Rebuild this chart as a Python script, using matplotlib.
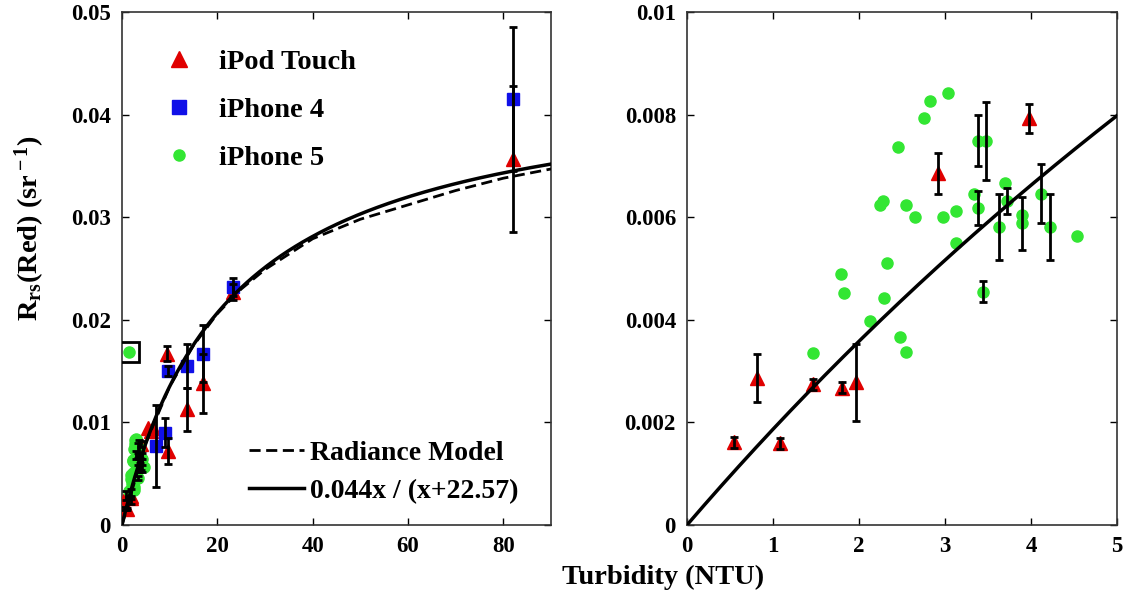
import numpy as np
import matplotlib
matplotlib.use("Agg")
import matplotlib.pyplot as plt
from matplotlib.lines import Line2D

plt.rcParams['font.family'] = ['Liberation Serif', 'DejaVu Serif']
plt.rcParams['font.weight'] = 'bold'
plt.rcParams['mathtext.fontset'] = 'custom'
plt.rcParams['mathtext.rm'] = 'Liberation Serif:bold'
plt.rcParams['mathtext.it'] = 'Liberation Serif:bold'
plt.rcParams['mathtext.bf'] = 'Liberation Serif:bold'

# iPod Touch (red triangles): turbidity, Rrs, error
ipod_x = [0.55, 0.81, 1.08, 1.47, 1.80, 1.97, 2.92, 3.98, 5.4, 6.0, 6.6,
          9.4, 9.6, 13.6, 16.9, 23.2, 82.0]
ipod_y = [0.00161, 0.00287, 0.00159, 0.00274, 0.00268, 0.00278, 0.00686, 0.00793,
          0.0095, 0.0092, 0.0095, 0.0167, 0.0072, 0.0113, 0.0138, 0.0227, 0.0357]
ipod_err = [0.0001, 0.00047, 0.0001, 0.0001, 0.0001, 0.00075, 0.0004, 0.00028,
            0.0, 0.0, 0.0, 0.0007, 0.0013, 0.0021, 0.0029, 0.0008, 0.0071]

# iPhone 4 (blue squares)
ip4_x = [7.1, 9.0, 9.6, 13.6, 16.9, 23.2, 82.0]
ip4_y = [0.0077, 0.0090, 0.0150, 0.0155, 0.0167, 0.0232, 0.0415]
ip4_err = [0.0040, 0.0014, 0.0005, 0.0021, 0.0028, 0.0009, 0.0070]

# iPhone 5 (green circles)
ip5_x = [3.03, 2.83, 2.76, 2.45, 3.38, 3.48, 2.28, 2.24, 2.55, 2.65, 2.98,
         3.13, 3.34, 3.38, 3.70, 3.72, 3.63, 3.89, 3.89, 4.12, 4.22, 4.53,
         3.13, 2.32, 1.79, 1.83, 2.29, 2.13, 2.48, 2.55, 1.46, 3.44]
ip5_y = [0.00843, 0.00826, 0.00793, 0.00736, 0.00749, 0.00749, 0.00632, 0.00623,
         0.00624, 0.00601, 0.00601, 0.00613, 0.00646, 0.00618, 0.00667, 0.00631,
         0.00581, 0.00604, 0.00588, 0.00646, 0.00581, 0.00563, 0.00550, 0.00511,
         0.00489, 0.00453, 0.00442, 0.00397, 0.00366, 0.00338, 0.00335, 0.00455]
ip5_err = [0, 0, 0, 0, 0.0005, 0.00076, 0, 0, 0, 0, 0,
           0, 0, 0.00033, 0, 0.00025, 0.00065, 0, 0.00052, 0.00057, 0.00065, 0,
           0, 0, 0, 0, 0, 0, 0, 0, 0, 0.0002]

# outlier (boxed)
out_x = [1.5]
out_y = [0.0169]

# radiance model (dashed)
rad_x = [0, 5, 10, 15, 20, 25, 30, 40, 50, 60, 70, 80, 90]
rad_y = [0, 0.0080, 0.0135, 0.0175, 0.0206, 0.0230, 0.0249, 0.0279, 0.0298,
         0.0312, 0.0326, 0.0338, 0.0347]

# fitted curve from the label: 0.044x / (x+22.57)
fit_a, fit_b = 0.044, 22.57

RED = '#e00000'
BLUE = '#1010e8'
GREEN = '#33e633'

fig = plt.figure(figsize=(11.38, 6.0), dpi=100)
ax1 = fig.add_axes([122 / 1138, 75 / 600, 429 / 1138, 513 / 600])
ax2 = fig.add_axes([687 / 1138, 75 / 600, 430 / 1138, 513 / 600])

for ax, xmax in [(ax1, 90), (ax2, 5)]:
    ax.plot(ipod_x, ipod_y, '^', color=RED, ms=10, mec=RED, zorder=3)
    ax.plot(ip4_x, ip4_y, 's', color=BLUE, ms=9, mec=BLUE, zorder=3)
    ax.plot(ip5_x, ip5_y, 'o', color=GREEN, ms=8, mec=GREEN, zorder=3)
    ax.plot(out_x, out_y, 'o', color=GREEN, ms=8, mec=GREEN, zorder=3)
    for xs, ys, es in [(ipod_x, ipod_y, ipod_err), (ip4_x, ip4_y, ip4_err),
                       (ip5_x, ip5_y, ip5_err)]:
        xs = np.array(xs)
        ys = np.array(ys)
        es = np.array(es)
        m = es > 0
        ax.errorbar(xs[m], ys[m], yerr=es[m], fmt='none', ecolor='black',
                    elinewidth=2, capsize=3, capthick=2, zorder=4)
    xx = np.linspace(0, xmax, 300)
    ax.plot(xx, fit_a * xx / (xx + fit_b), '-', color='black', lw=2.5, zorder=5)
    ax.set_xlim(0, xmax)
    ax.tick_params(direction='in', top=True, right=True, length=5, width=1,
                   labelsize=16.5, pad=8)
    for s in ax.spines.values():
        s.set_linewidth(1.2)
        s.set_color('#333333')

ax1.plot(out_x, out_y, 's', mfc='none', mec='black', ms=15, mew=2, zorder=4)
ax1.plot(rad_x, rad_y, '--', color='black', lw=2, dashes=(4, 2), zorder=5)

ax1.set_ylim(0, 0.05)
ax1.set_xticks([0, 20, 40, 60, 80])
ax1.set_yticks([0, 0.01, 0.02, 0.03, 0.04, 0.05])
ax1.set_yticklabels(['0', '0.01', '0.02', '0.03', '0.04', '0.05'])

ax2.set_ylim(0, 0.01)
ax2.set_xticks([0, 1, 2, 3, 4, 5])
ax2.set_yticks([0, 0.002, 0.004, 0.006, 0.008, 0.01])
ax2.set_yticklabels(['0', '0.002', '0.004', '0.006', '0.008', '0.01'])

h1 = [Line2D([], [], ls='none', marker='^', color=RED, ms=12),
      Line2D([], [], ls='none', marker='s', color=BLUE, ms=10),
      Line2D([], [], ls='none', marker='o', color=GREEN, ms=8)]
leg1 = ax1.legend(h1, ['iPod Touch', 'iPhone 4', 'iPhone 5'], loc='upper left',
                  bbox_to_anchor=(0.04, 0.95), frameon=False, fontsize=20.5,
                  handletextpad=0.4, labelspacing=0.78, borderaxespad=0)
ax1.add_artist(leg1)

h2 = [Line2D([], [], ls='--', color='black', lw=2, dashes=(4, 2)),
      Line2D([], [], ls='-', color='black', lw=2.5)]
ax1.legend(h2, ['Radiance Model', '0.044x / (x+22.57)'], loc='lower left',
           bbox_to_anchor=(0.27, 0.02), frameon=False, fontsize=20,
           handlelength=2.0, handletextpad=0.2, labelspacing=0.45, borderaxespad=0)

fig.text(663 / 1138, 1 - 577 / 600, 'Turbidity (NTU)', ha='center', va='center',
         fontsize=20.5, fontweight='bold')
fig.text(30 / 1138, 1 - 228 / 600, r'R$_{\rm rs}$(Red) (sr$^{\rm -1}$)', ha='center',
         va='center', rotation=90, fontsize=20.5, fontweight='bold')

fig.savefig('out.png', dpi=100)
